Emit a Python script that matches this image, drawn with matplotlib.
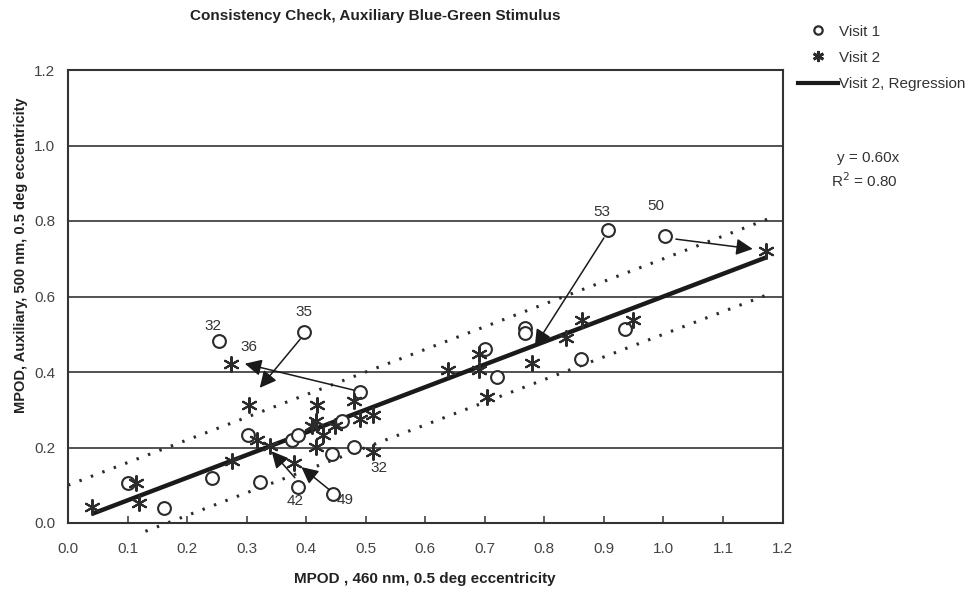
import matplotlib
matplotlib.use("Agg")
import matplotlib.pyplot as plt
import numpy as np
from matplotlib.lines import Line2D

plt.rcParams['font.family'] = ['Liberation Sans', 'DejaVu Sans']

# ---- data ----
v1_x = [0.101, 0.161, 0.242, 0.254, 0.303, 0.323, 0.376, 0.386, 0.386, 0.396, 0.445,
        0.443, 0.461, 0.480, 0.491, 0.701, 0.720, 0.767, 0.767, 0.862, 0.907, 0.935, 1.002]
v1_y = [0.106, 0.040, 0.118, 0.483, 0.234, 0.109, 0.221, 0.234, 0.096, 0.505, 0.077,
        0.182, 0.269, 0.201, 0.348, 0.461, 0.387, 0.516, 0.503, 0.435, 0.775, 0.515, 0.761]

v2_x = [0.040, 0.114, 0.120, 0.274, 0.275, 0.304, 0.318, 0.339, 0.379, 0.409, 0.417,
        0.418, 0.417, 0.428, 0.449, 0.481, 0.491, 0.512, 0.512, 0.638, 0.690, 0.690,
        0.703, 0.779, 0.837, 0.863, 0.949, 1.173]
v2_y = [0.042, 0.106, 0.053, 0.422, 0.164, 0.313, 0.220, 0.204, 0.159, 0.256, 0.269,
        0.312, 0.201, 0.234, 0.256, 0.322, 0.276, 0.287, 0.188, 0.405, 0.405, 0.449,
        0.335, 0.424, 0.490, 0.537, 0.537, 0.720]

slope = 0.60
r2 = 0.80
band = 0.10

# subject arrows (visit 1 -> visit 2)
arrow_start_x = [0.900, 1.021, 0.390, 0.480, 0.381, 0.439]
arrow_start_y = [0.755, 0.752, 0.487, 0.352, 0.120, 0.088]
arrow_end_x = [0.784, 1.150, 0.322, 0.297, 0.342, 0.392]
arrow_end_y = [0.468, 0.726, 0.358, 0.422, 0.190, 0.148]

label_text = ['53', '50', '35', '32', '36', '32', '42', '49']
label_x = [0.896, 0.987, 0.397, 0.243, 0.304, 0.523, 0.382, 0.465]
label_y = [0.824, 0.840, 0.559, 0.521, 0.466, 0.146, 0.057, 0.062]

x_ticks = [0.0, 0.1, 0.2, 0.3, 0.4, 0.5, 0.6, 0.7, 0.8, 0.9, 1.0, 1.1, 1.2]
y_ticks = [0.0, 0.2, 0.4, 0.6, 0.8, 1.0, 1.2]

# ---- figure ----
ink = '#2b2b2b'
fig = plt.figure(figsize=(9.79, 5.89), dpi=100)
ax = fig.add_axes([68/979, 1-523/589, (782.5-68)/979, (523-70)/589])
ax.set_xlim(0, 1.2)
ax.set_ylim(0, 1.2)

for yv in y_ticks[1:-1]:
    ax.axhline(yv, color='#444444', lw=1.3, zorder=1)

# dotted prediction band
dot_style = (0, (0.8, 3.2))
xb_up = np.array([0.0, 1.185])
ax.plot(xb_up, slope*xb_up + band, color=ink, lw=2.2, linestyle=dot_style,
        dash_capstyle='butt', zorder=2)
xb_lo = np.array([0.13, 1.185])
ax.plot(xb_lo, slope*xb_lo - band, color=ink, lw=2.2, linestyle=dot_style,
        dash_capstyle='butt', zorder=2, clip_on=False)

# regression
xr = np.array([min(v2_x), max(v2_x)])
ax.plot(xr, slope*xr, color='#1a1a1a', lw=3.2, zorder=3, solid_capstyle='butt')

ax.scatter(v1_x, v1_y, s=85, facecolors='white', edgecolors=ink, linewidths=1.5, zorder=4)
ax.scatter(v2_x, v2_y, s=115, marker=(6, 2, 0), color=ink, linewidths=1.5, zorder=5)

for sx, sy, ex, ey in zip(arrow_start_x, arrow_start_y, arrow_end_x, arrow_end_y):
    ax.annotate('', xy=(ex, ey), xytext=(sx, sy),
                arrowprops=dict(arrowstyle='-|>,head_length=0.5,head_width=0.25',
                                color='#1a1a1a', lw=1.1,
                                mutation_scale=20, shrinkA=0, shrinkB=0),
                zorder=6)

for t, lx, ly in zip(label_text, label_x, label_y):
    ax.text(lx, ly, t, fontsize=11, color='#333333', ha='center', va='center')

ax.set_xticks(x_ticks)
ax.set_xticklabels([f'{v:.1f}' for v in x_ticks])
ax.set_yticks(y_ticks)
ax.set_yticklabels([f'{v:.1f}' for v in y_ticks])
ax.tick_params(axis='x', direction='in', length=5, width=1.2, color='#444444',
               labelsize=11, labelcolor='#444444', pad=14)
ax.tick_params(axis='y', length=0, labelsize=11, labelcolor='#444444', pad=9)
for sp in ax.spines.values():
    sp.set_color('#333333')
    sp.set_linewidth(1.5)

ax.set_xlabel('MPOD , 460 nm, 0.5 deg eccentricity', fontsize=11, fontweight='bold',
              color='#222222', labelpad=11)
ax.set_ylabel('MPOD, Auxiliary, 500 nm, 0.5 deg eccentricity', fontsize=10.5,
              fontweight='bold', color='#222222')
ax.yaxis.set_label_coords((28-68)/714.5, (523-255)/453)

fig.text(190/979, 1-16/589, 'Consistency Check, Auxiliary Blue-Green Stimulus',
         fontsize=11, fontweight='bold', ha='left', va='center', color='#222222')

handles = [
    Line2D([], [], marker='o', linestyle='none', markerfacecolor='white',
           markeredgecolor=ink, markeredgewidth=1.6, markersize=6),
    Line2D([], [], marker=(6, 2, 0), linestyle='none', color=ink,
           markeredgewidth=2, markersize=8),
    Line2D([], [], color='#1a1a1a', lw=3),
]
fig.legend(handles, ['Visit 1', 'Visit 2', 'Visit 2, Regression'],
           loc='upper left', bbox_to_anchor=(798/979, 1-24.5/589), frameon=False,
           fontsize=11, handlelength=2.6, handletextpad=0.08, labelspacing=0.8,
           borderaxespad=0, borderpad=0, labelcolor='#333333')

fig.text(868/979, 1-158/589, f'y = {slope:.2f}x', fontsize=11, ha='center',
         va='center', color='#333333')
fig.text(864/979, 1-181/589, f'R$^2$ = {r2:.2f}', fontsize=11, ha='center',
         va='center', color='#333333')

fig.savefig('out.png', dpi=100)
